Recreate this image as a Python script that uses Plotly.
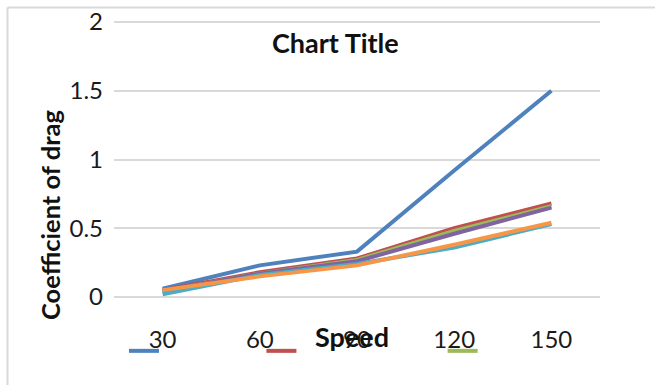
import plotly.graph_objects as go

# Speed categories and drag-coefficient series
speeds = ["30", "60", "90", "120", "150"]
cd_blue = [0.06, 0.23, 0.33, 0.92, 1.50]
cd_red = [0.05, 0.18, 0.28, 0.50, 0.68]
cd_green = [0.04, 0.17, 0.27, 0.48, 0.66]
cd_purple = [0.04, 0.17, 0.26, 0.46, 0.65]
cd_aqua = [0.02, 0.16, 0.24, 0.36, 0.53]
cd_orange = [0.05, 0.15, 0.23, 0.38, 0.54]

y_ticks = [0, 0.5, 1, 1.5, 2]
y_tick_text = ["0", "0.5", "1", "1.5", "2"]

series = [
    ("\u00a0" * 19, cd_blue, "#4F81BD", True),
    ("\u00a0" * 28, cd_red, "#C0504D", True),
    ("\u00a0" * 10, cd_green, "#9BBB59", True),
    ("s4", cd_purple, "#8064A2", False),
    ("s5", cd_aqua, "#4BACC6", False),
    ("s6", cd_orange, "#F79646", False),
]

W, H = 655, 385
L, R, T, B = 114, 55, 20, 88
pw, ph = W - L - R, H - T - B
y_top = 2 * ph / 275.0  # value 2 sits 2px below the plot top

FONT = "Lato, Calibri, sans-serif"

fig = go.Figure()
for name, vals, col, show in series:
    fig.add_trace(go.Scatter(
        x=speeds, y=vals, mode="lines", name=name, showlegend=show,
        line=dict(color=col, width=4),
    ))

def px_x(p):
    return (p - L) / pw

def px_y(p):
    return (H - B - p) / ph

fig.update_layout(
    width=W, height=H,
    margin=dict(l=L, r=R, t=T, b=B, autoexpand=False),
    paper_bgcolor="white", plot_bgcolor="white",
    font=dict(family=FONT, color="#1a1a1a", size=24),
    showlegend=True,
    legend=dict(
        orientation="h", x=px_x(124), y=px_y(351), xanchor="left", yanchor="middle",
        font=dict(family=FONT, size=19), bgcolor="rgba(0,0,0,0)",
        itemwidth=30, tracegroupgap=0,
    ),
    xaxis=dict(
        type="category", range=[-0.5, 4.5], automargin=False,
        showgrid=False, showline=False, ticks="",
        ticklabelstandoff=26, tickfont=dict(size=24),
    ),
    yaxis=dict(
        range=[0, y_top], tickvals=y_ticks, ticktext=y_tick_text, automargin=False,
        showgrid=True, gridcolor="#d9d9d9", gridwidth=1.5,
        zeroline=True, zerolinecolor="#d9d9d9", zerolinewidth=1.5,
        showline=False, ticks="",
        ticklabelstandoff=10, tickfont=dict(size=24),
    ),
    annotations=[
        dict(text="<b>Chart Title</b>", x=px_x(335), y=px_y(42), xref="paper", yref="paper",
             showarrow=False, font=dict(size=27, color="#111"),
             xanchor="center", yanchor="middle"),
        dict(text="<b>Speed</b>", x=px_x(352), y=px_y(336), xref="paper", yref="paper",
             showarrow=False, font=dict(size=27, color="#111"),
             xanchor="center", yanchor="middle"),
        dict(text="<b>Coefficient of drag</b>", x=px_x(50), y=px_y(215),
             xref="paper", yref="paper", textangle=-90,
             showarrow=False, font=dict(size=25.5, color="#111"),
             xanchor="center", yanchor="middle"),
    ],
    shapes=[
        dict(type="line", xref="paper", yref="paper", x0=px_x(7.5), x1=px_x(W + 5),
             y0=px_y(7.5), y1=px_y(7.5), line=dict(color="#d9d9d9", width=2)),
        dict(type="line", xref="paper", yref="paper", x0=px_x(7.5), x1=px_x(7.5),
             y0=px_y(7.5), y1=px_y(H + 5), line=dict(color="#d9d9d9", width=2)),
    ],
)

fig.write_html("out.html")
